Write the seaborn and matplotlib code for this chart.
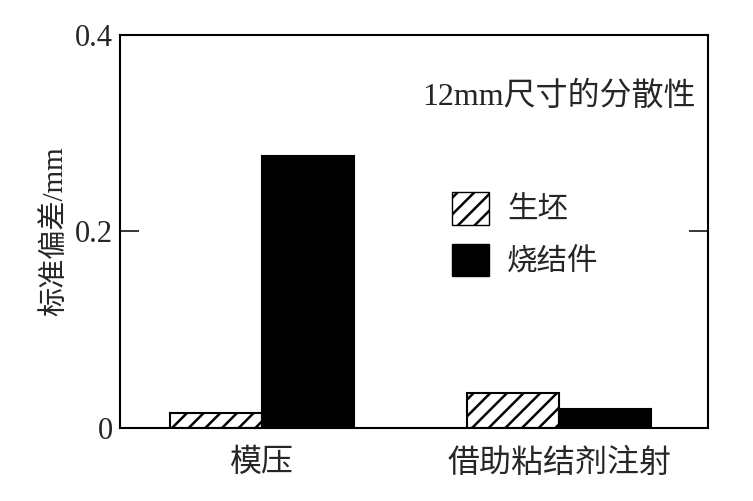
import matplotlib
matplotlib.use("Agg")
import matplotlib.pyplot as plt
import pandas as pd
import seaborn as sns
from matplotlib.patches import Patch

categories = ["模压", "借助粘结剂注射"]
series = ["生坯", "烧结件"]
green = [0.015, 0.035]
sintered = [0.277, 0.019]

df = pd.DataFrame({
    "method": categories * 2,
    "kind": [series[0]] * 2 + [series[1]] * 2,
    "std": green + sintered,
})

sns.set_style("white")
plt.rcParams["font.family"] = ["Liberation Serif", "Noto Sans CJK SC", "DejaVu Sans"]
plt.rcParams["hatch.linewidth"] = 1.8

fig = plt.figure(figsize=(7.53, 5.01), dpi=100)
ax = fig.add_axes([0.159, 0.146, 0.781, 0.784])

sns.barplot(data=df, x="method", y="std", hue="kind", order=categories,
            hue_order=series, palette=["white", "black"], width=0.62,
            edgecolor="black", linewidth=1.5, saturation=1, ax=ax, legend=False)

for bar in ax.patches[:2]:
    bar.set_hatch("//")

ax.set_xlim(-0.48, 1.5)
ax.set_ylim(0, 0.4)
ax.set_yticks([0, 0.2, 0.4])
ax.set_yticklabels(["0", "0.2", "0.4"])
ax.tick_params(axis="y", direction="in", length=14, width=1.3, labelsize=22,
               left=True, right=True, pad=5)
ax.tick_params(axis="x", length=0, labelsize=23, pad=15)
ax.set_xlabel("")
ax.set_ylabel("标准偏差/mm", fontsize=21, labelpad=5)
for s in ax.spines.values():
    s.set_linewidth(1.5)
    s.set_color("black")

ax.text(0.98, 0.842, "12mm尺寸的分散性", transform=ax.transAxes,
        ha="right", va="center", fontsize=23)

handles = [Patch(facecolor="white", edgecolor="black", hatch="//", label=series[0]),
           Patch(facecolor="black", edgecolor="black", label=series[1])]
ax.legend(handles=handles, loc="upper left", bbox_to_anchor=(0.518, 0.67),
          frameon=False, fontsize=22, handlelength=1.2, handleheight=1.25,
          labelspacing=0.6, handletextpad=0.6)

fig.savefig("out.png", dpi=100)
